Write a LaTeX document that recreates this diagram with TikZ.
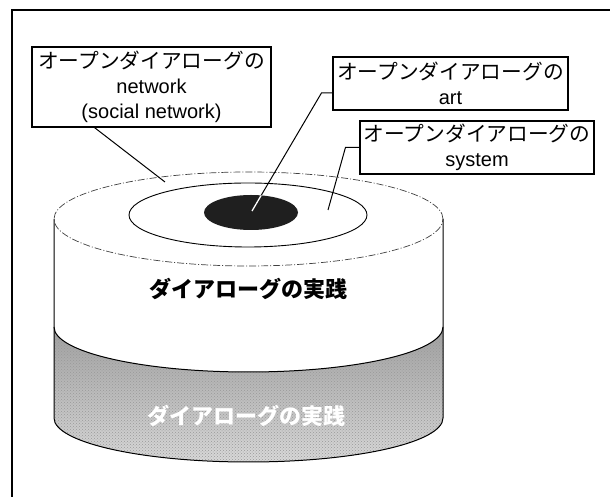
\documentclass[tikz,border=0pt]{standalone}
\usepackage{fontspec}
\setmainfont{Liberation Sans}
\newfontfamily\jp{Noto Sans CJK JP}
\usetikzlibrary{patterns}
\begin{document}
\begin{tikzpicture}[x=1pt,y=1pt,
  lbl/.style={draw, fill=white, line width=1.1pt, inner sep=0pt, align=center,
    font=\fontsize{20}{25}\selectfont},
  conn/.style={line width=1pt},
  cyl/.style={line width=1pt},
  rim/.style={line width=0.7pt, black!75, dash pattern=on 7pt off 2pt on 1pt off 2pt},
  jpt/.style={font=\jp\bfseries\fontsize{22}{26}\selectfont}
]
\useasboundingbox (0,0) rectangle (610,497);
\clip (0,0) rectangle (610,497);
\fill[white] (0,0) rectangle (610,497);
% frame
\draw[line width=1.4pt] (12,-10) -- (12,487) -- (620,487);

% lower textured band
\def\bandpath{(54,170) arc[start angle=180, end angle=360, x radius=194.5, y radius=45]
  -- (443,79) arc[start angle=0, end angle=-180, x radius=194.5, y radius=44] -- cycle}
\shade[top color=gray!75, middle color=gray!48, bottom color=gray!30] \bandpath;
\fill[pattern=crosshatch dots, pattern color=black!40] \bandpath;

% cylinder outline
\draw[cyl] (54,278) -- (54,79) arc[start angle=180, end angle=360, x radius=194.5, y radius=44] -- (443,278);
\draw[cyl] (54,170) arc[start angle=180, end angle=360, x radius=194.5, y radius=45];
\draw[rim] (248.5,278) ellipse [x radius=194.5, y radius=47];
\draw[line width=0.9pt] (248,282) ellipse [x radius=119, y radius=32];
\fill[black!88] (251,284.5) ellipse [x radius=47, y radius=17.5];

% texts on the cylinder
\node[jpt] (prac) at (248,208) {ダイアローグの実践};
\node[jpt, text=white] (prac2) at (246,81) {ダイアローグの実践};

% label boxes
\node[lbl, minimum width=239pt, minimum height=80pt] (net) at (151.5,410)
  {{\jp\fontsize{20.7}{25}\selectfont オープンダイアローグの}\\network\\(social network)};
\node[lbl, minimum width=235pt, minimum height=53pt] (art) at (450.5,413.5)
  {{\jp\fontsize{20.7}{25}\selectfont オープンダイアローグの}\\art};
\node[lbl, minimum width=234pt, minimum height=53pt] (sys) at (477,349.5)
  {{\jp\fontsize{20.7}{25}\selectfont オープンダイアローグの}\\system};

% connector end points
\coordinate (netend) at (165,315);
\coordinate (artend) at (252,286);
\coordinate (sysend) at (328,287);

\draw[conn] ([xshift=63pt]net.south west) -- (netend);
\draw[conn] ([yshift=-9.5pt]art.west) -- ++(-11,0) -- (artend);
\begin{scope}
  \clip (251,284.5) ellipse [x radius=47, y radius=17.5];
  \draw[white, line width=1.3pt] ([yshift=-9.5pt]art.west) -- ++(-11,0) -- (artend);
\end{scope}
\draw[conn] (sys.west) -- ++(-14,0) -- (sysend);
\end{tikzpicture}
\end{document}
